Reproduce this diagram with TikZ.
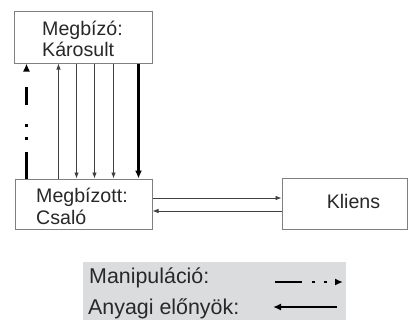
\documentclass[tikz,border=0pt]{standalone}
\usepackage{fontspec}
\setmainfont{Liberation Sans}
\usetikzlibrary{positioning,arrows.meta}
\definecolor{boxline}{RGB}{128,128,128}
\definecolor{txtcol}{RGB}{40,40,40}
\definecolor{legendbg}{RGB}{218,220,222}

\begin{document}
\begin{tikzpicture}[x=1pt,y=-1pt,
    party/.style={draw=boxline,line width=1pt,fill=white,inner sep=0pt},
    lbl/.style={anchor=base west,inner sep=0pt,text=txtcol,font=\fontsize{19.6}{23}\selectfont},
    keylbl/.style={lbl,font=\fontsize{21.4}{25}\selectfont},
    flow/.style={draw=black!75,line width=0.8pt,-{Latex[length=6pt,width=4.5pt]}},
    bigflow/.style={draw=black,line width=2.6pt,-{Latex[length=8pt,width=7pt]}},
    manip/.style={bigflow,dash pattern=on 27pt off 12pt on 2.5pt off 10.5pt on 2.5pt off 19pt on 18pt off 30pt},
    manipkey/.style={bigflow,dash pattern=on 27pt off 10pt on 3pt off 9pt on 3pt off 30pt}]
    \useasboundingbox (0,0) rectangle (408,322);

    % Parties
    \node[party,minimum width=138pt,minimum height=52pt] (principal) at (83,37) {};
    \node[party,minimum width=137pt,minimum height=50pt] (agent) at (83.5,204) {};
    \node[party,minimum width=125pt,minimum height=51pt] (client) at (344.5,204) {};

    \node[lbl] (principalA) at (42,35) {Megbízó:};
    \node[lbl] (principalB) at (42,56) {Károsult};
    \node[lbl] (agentA) at (36,202) {Megbízott:};
    \node[lbl] (agentB) at (36,224) {Csaló};
    \node[lbl,anchor=base] (clientA) at (353.5,208) {Kliens};

    % Manipulation (up)
    \draw[manip] ([xshift=13pt]principal.south west |- agent.north) -- ([xshift=13pt]principal.south west);
    \draw[flow] ([xshift=45pt]principal.south west |- agent.north) -- ([xshift=45pt]principal.south west);
    % Material gains (down)
    \foreach \dx in {63,81,100}
        \draw[flow] ([xshift=\dx pt]principal.south west) -- ([xshift=\dx pt]principal.south west |- agent.north);
    \draw[bigflow] ([xshift=125pt]principal.south west) -- ([xshift=125pt]principal.south west |- agent.north);

    % Agent <-> client
    \draw[flow] ([yshift=6pt]agent.east) -- ([yshift=6pt]agent.east -| client.west);
    \draw[flow] ([yshift=-7pt]agent.east -| client.west) -- ([yshift=-7pt]agent.east);

    % Legend
    \node[fill=legendbg,inner sep=0pt,minimum width=263pt,minimum height=58pt] (legend) at (214.5,291) {};
    \node[keylbl] (keyA) at (89,283) {Manipuláció:};
    \node[keylbl] (keyB) at (88,314) {Anyagi előnyök:};
    \coordinate (mstart) at (275,282);
    \coordinate (mend) at (343,282);
    \draw[manipkey] (mstart) -- (mend);
    \coordinate (gstart) at (337,307);
    \coordinate (gend) at (273,307);
    \draw[bigflow] (gstart) -- (gend);
\end{tikzpicture}
\end{document}
